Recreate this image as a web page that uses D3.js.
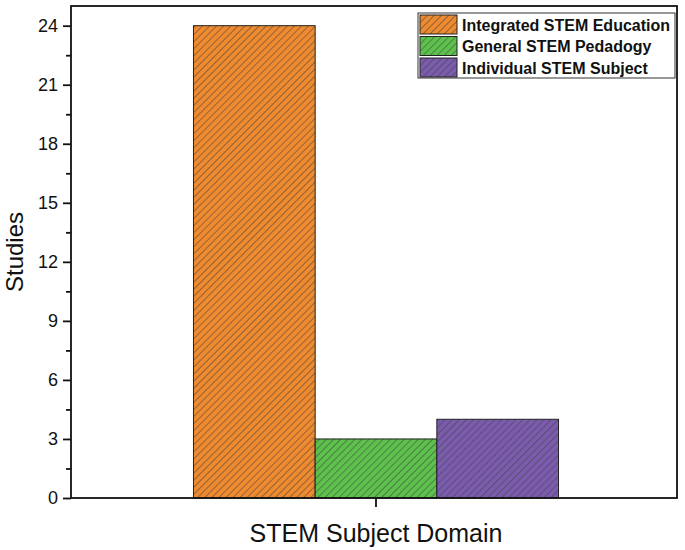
<!DOCTYPE html>
<html>
<head>
<meta charset="utf-8">
<script src="https://cdn.jsdelivr.net/npm/d3@7"></script>
<style>
  body { margin: 0; background: #fff; }
  text { font-family: Arial, "Liberation Sans", sans-serif; }
</style>
</head>
<body>
<div id="chart"></div>
<script>
// data
const group = ["STEM Subject Domain"];
const series = ["Integrated STEM Education", "General STEM Pedadogy", "Individual STEM Subject"];
const values = [24, 3, 4];
const colors = ["#F08A2E", "#5DC24C", "#7B5BAE"];
const yTicks = [0, 3, 6, 9, 12, 15, 18, 21, 24];
const yMinor = [1.5, 4.5, 7.5, 10.5, 13.5, 16.5, 19.5, 22.5];

const W = 685, H = 550;
const margin = { top: 6, right: 8, bottom: 52, left: 71 };
const width = W - margin.left - margin.right;
const height = H - margin.top - margin.bottom;

const svg = d3.select("#chart")
  .append("svg")
  .attr("width", W)
  .attr("height", H);

// hatch patterns
const defs = svg.append("defs");
series.forEach((s, i) => {
  const p = defs.append("pattern")
    .attr("id", "hatch" + i)
    .attr("patternUnits", "userSpaceOnUse")
    .attr("width", 5)
    .attr("height", 5)
    .attr("patternTransform", "rotate(45)");
  p.append("rect").attr("width", 5).attr("height", 5).attr("fill", colors[i]);
  p.append("line")
    .attr("x1", 0.5).attr("y1", 0).attr("x2", 0.5).attr("y2", 5)
    .attr("stroke", "#444").attr("stroke-width", 0.55);
});

const g = svg.append("g")
  .attr("transform", `translate(${margin.left},${margin.top})`);

// bars sit ~2px right of the frame centre in the original
const x0 = d3.scaleBand().domain(group).range([2, width + 2]).paddingOuter(0.33).paddingInner(0);
const x1 = d3.scaleBand().domain(series).range([0, x0.bandwidth()]);
const y = d3.scaleLinear().domain([0, 25]).range([height, 0]);

// bars
g.append("g")
  .attr("transform", `translate(${x0(group[0])},0)`)
  .selectAll("rect")
  .data(series)
  .join("rect")
  .attr("x", d => x1(d))
  .attr("y", (d, i) => y(values[i]))
  .attr("width", x1.bandwidth())
  .attr("height", (d, i) => height - y(values[i]))
  .attr("fill", (d, i) => `url(#hatch${i})`)
  .attr("stroke", "#222")
  .attr("stroke-width", 1);

// y axis
const yAxis = g.append("g")
  .call(d3.axisLeft(y).tickValues(yTicks).tickSize(8).tickPadding(5));
yAxis.selectAll("text").attr("font-size", 18).attr("fill", "#111");
yAxis.select(".domain").remove();
yAxis.selectAll(".tick line").attr("stroke-width", 1.8).attr("stroke", "#111");

const yAxisMinor = g.append("g")
  .call(d3.axisLeft(y).tickValues(yMinor).tickSize(5).tickFormat(""));
yAxisMinor.select(".domain").remove();
yAxisMinor.selectAll(".tick line").attr("stroke-width", 1.8).attr("stroke", "#111");

// x axis
const xAxis = g.append("g")
  .attr("transform", `translate(0,${height})`)
  .call(d3.axisBottom(x0).tickSize(9).tickFormat(""));
xAxis.select(".domain").remove();
xAxis.selectAll(".tick line").attr("stroke-width", 1.8).attr("stroke", "#111");

// frame
g.append("rect")
  .attr("width", width)
  .attr("height", height)
  .attr("fill", "none")
  .attr("stroke", "#111")
  .attr("stroke-width", 1.8);

// axis titles
svg.append("text")
  .attr("x", margin.left + x0(group[0]) + x0.bandwidth() / 2)
  .attr("y", 542)
  .attr("text-anchor", "middle")
  .attr("font-size", 25)
  .attr("fill", "#111")
  .text("STEM Subject Domain");

svg.append("text")
  .attr("transform", `translate(23,${margin.top + height / 2}) rotate(-90)`)
  .attr("text-anchor", "middle")
  .attr("font-size", 24)
  .attr("fill", "#111")
  .text("Studies");

// legend
const legend = svg.append("g").attr("transform", "translate(418,13)");
legend.append("rect")
  .attr("width", 257)
  .attr("height", 65)
  .attr("fill", "#fff")
  .attr("stroke", "#333")
  .attr("stroke-width", 1);
series.forEach((s, i) => {
  const row = legend.append("g").attr("transform", `translate(2,${2 + i * 21.5})`);
  row.append("rect")
    .attr("width", 37)
    .attr("height", 19)
    .attr("fill", `url(#hatch${i})`)
    .attr("stroke", "#222")
    .attr("stroke-width", 1);
  row.append("text")
    .attr("x", 42)
    .attr("y", 15.5)
    .attr("font-size", 16)
    .attr("font-weight", "bold")
    .attr("fill", "#111")
    .text(s);
});
</script>
</body>
</html>
